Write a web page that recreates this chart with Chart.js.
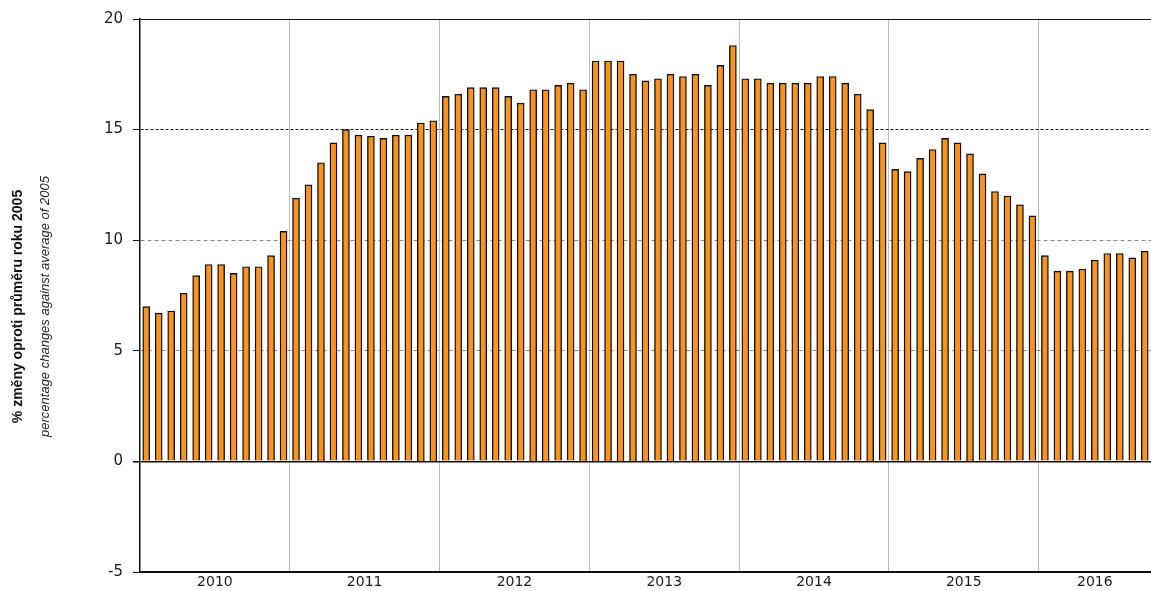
<!DOCTYPE html>
<html>
<head>
<meta charset="utf-8">
<script src="https://cdn.jsdelivr.net/npm/chart.js@4"></script>
<style>
  body { margin: 0; background: #fff; }
  #wrap { width: 1151px; height: 591px; }
</style>
</head>
<body>
<div id="wrap"><canvas id="barChart"></canvas></div>
<script>
// roky a pocet mesicu v kazdem roce
const years = ['2010', '2011', '2012', '2013', '2014', '2015', '2016'];
const monthsPerYear = [12, 12, 12, 12, 12, 12, 9];

// mesicni hodnoty (% zmeny proti prumeru roku 2005)
const values2010 = [7.0, 6.7, 6.8, 7.6, 8.4, 8.9, 8.9, 8.5, 8.8, 8.8, 9.3, 10.4];
const values2011 = [11.9, 12.5, 13.5, 14.4, 15.0, 14.75, 14.7, 14.6, 14.75, 14.75, 15.3, 15.4];
const values2012 = [16.5, 16.6, 16.9, 16.9, 16.9, 16.5, 16.2, 16.8, 16.8, 17.0, 17.1, 16.8];
const values2013 = [18.1, 18.1, 18.1, 17.5, 17.2, 17.3, 17.5, 17.4, 17.5, 17.0, 17.9, 18.8];
const values2014 = [17.3, 17.3, 17.1, 17.1, 17.1, 17.1, 17.4, 17.4, 17.1, 16.6, 15.9, 14.4];
const values2015 = [13.2, 13.1, 13.7, 14.1, 14.6, 14.4, 13.9, 13.0, 12.2, 12.0, 11.6, 11.1];
const values2016 = [9.3, 8.6, 8.6, 8.7, 9.1, 9.4, 9.4, 9.2, 9.5];

const yTicks = [-5, 0, 5, 10, 15, 20];
const titleCz = '% změny oproti průměru roku 2005';
const titleEn = 'percentage changes against average of 2005';

const values = [].concat(values2010, values2011, values2012, values2013, values2014, values2015, values2016);

// zacatky roku a stredy pro popisky
const yearStarts = [];
let acc = 0;
monthsPerYear.forEach(n => { yearStarts.push(acc); acc += n; });
const yearMids = yearStarts.map((s, i) => s + monthsPerYear[i] / 2);

const axisTitle = {
    id: 'axisTitle',
    afterDraw(chart) {
        const { ctx, chartArea } = chart;
        const cy = (chartArea.top + chartArea.bottom) / 2 + 11;
        ctx.save();
        ctx.textAlign = 'center';
        ctx.textBaseline = 'middle';
        ctx.fillStyle = '#111';
        ctx.translate(18, cy);
        ctx.rotate(-Math.PI / 2);
        ctx.font = 'bold 14px "Liberation Sans Narrow", "Arial Narrow", "Liberation Sans", sans-serif';
        ctx.fillText(titleCz, 0, 0);
        ctx.font = 'italic 13px "Liberation Sans Narrow", "Arial Narrow", "Liberation Sans", sans-serif';
        ctx.fillStyle = '#222';
        ctx.fillText(titleEn, 0, 27);
        ctx.restore();
    }
};

document.addEventListener('DOMContentLoaded', () => {
    const ctx = document.getElementById('barChart').getContext('2d');
    new Chart(ctx, {
        type: 'bar',
        data: {
            datasets: [{
                data: values.map((v, i) => ({ x: i + 0.5, y: v })),
                backgroundColor: '#F7931E',
                borderColor: '#111',
                borderWidth: 1.4,
                barThickness: 7,
            }]
        },
        options: {
            responsive: true,
            maintainAspectRatio: false,
            animation: false,
            layout: { padding: { top: 17, right: 0, bottom: 0, left: 0 } },
            plugins: { legend: { display: false }, tooltip: { enabled: false } },
            scales: {
                x: {
                    type: 'linear',
                    min: 0,
                    max: acc,
                    offset: false,
                    afterBuildTicks: axis => {
                        const t = [];
                        yearStarts.forEach((s, i) => {
                            t.push({ value: s });
                            t.push({ value: yearMids[i] });
                        });
                        axis.ticks = t;
                    },
                    afterFit: s => { s.height = 19; },
                    ticks: {
                        autoSkip: false,
                        maxRotation: 0,
                        padding: 2,
                        color: '#1a1a1a',
                        font: { family: '"DejaVu Sans", sans-serif', size: 14 },
                        callback: value => {
                            const k = yearMids.indexOf(value);
                            return k >= 0 ? years[k] : '';
                        }
                    },
                    grid: {
                        offset: false,
                        drawTicks: false,
                        lineWidth: 1,
                        color: c => (c.tick && yearStarts.includes(c.tick.value) && c.tick.value > 0) ? '#bdbdbd' : 'rgba(0,0,0,0)'
                    },
                    border: { color: '#111', width: 1.5 }
                },
                y: {
                    min: -5,
                    max: 20,
                    afterBuildTicks: axis => { axis.ticks = yTicks.map(v => ({ value: v })); },
                    afterFit: s => { s.width = 140; },
                    ticks: {
                        padding: 10,
                        color: '#1a1a1a',
                        font: { family: '"DejaVu Sans", sans-serif', size: 15 }
                    },
                    grid: {
                        tickLength: 7,
                        tickColor: '#111',
                        lineWidth: c => (c.tick && c.tick.value === 0) ? 1.6 : 1,
                        color: c => {
                            const v = c.tick ? c.tick.value : null;
                            if (v === 10 || v === 5) return '#888';
                            return '#111';
                        }
                    },
                    border: {
                        color: '#111',
                        width: 1.5,
                        dash: c => {
                            const v = c.tick ? c.tick.value : null;
                            if (v === 15) return [3, 2];
                            if (v === 10 || v === 5) return [4, 3];
                            return [];
                        }
                    }
                }
            }
        },
        plugins: [axisTitle]
    });
});
</script>
</body>
</html>
